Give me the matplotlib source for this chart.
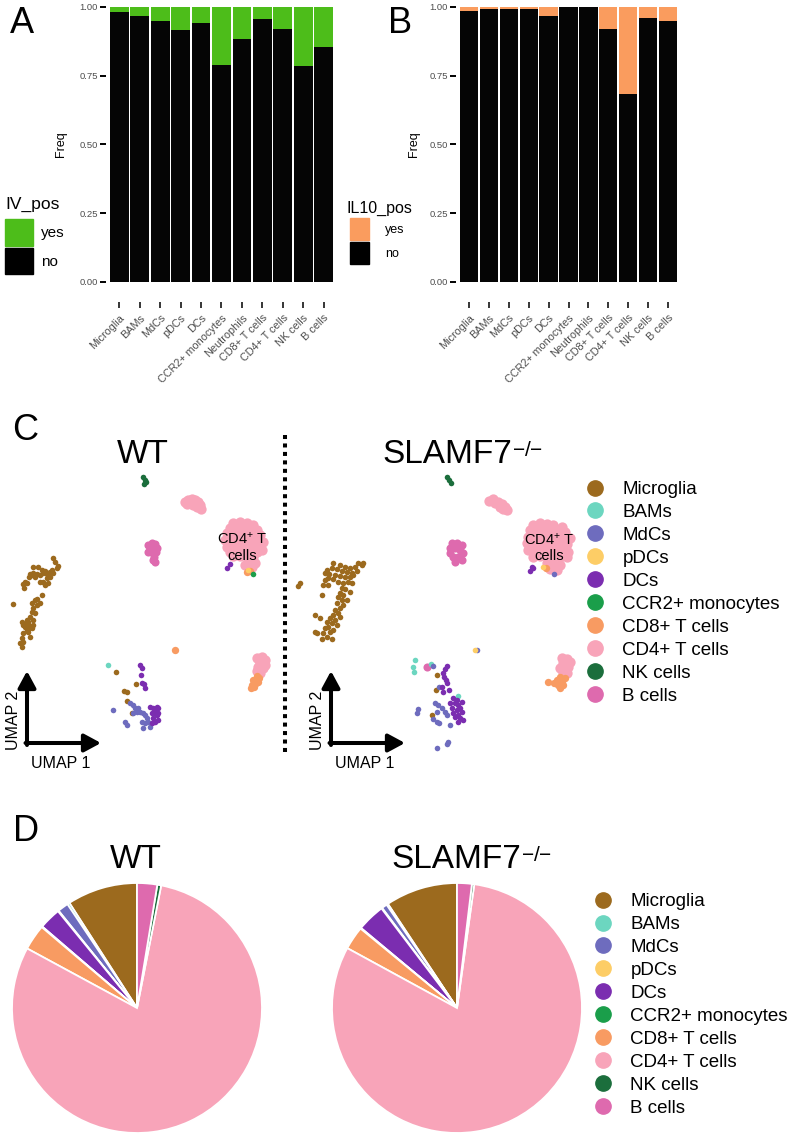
import numpy as np
import matplotlib.pyplot as plt
from matplotlib.patches import Patch, FancyArrowPatch
from matplotlib.lines import Line2D

plt.rcParams['font.family'] = ['Liberation Sans', 'DejaVu Sans']
plt.rcParams['mathtext.fontset'] = 'custom'
plt.rcParams['mathtext.rm'] = 'Liberation Sans'
plt.rcParams['mathtext.it'] = 'Liberation Sans:italic'
plt.rcParams['mathtext.bf'] = 'Liberation Sans:bold'

# ---- panels A / B : stacked frequencies ----
bar_types = ['Microglia', 'BAMs', 'MdCs', 'pDCs', 'DCs', 'CCR2+ monocytes', 'Neutrophils',
             'CD8+ T cells', 'CD4+ T cells', 'NK cells', 'B cells']
iv_no = [0.982, 0.967, 0.949, 0.918, 0.942, 0.788, 0.884, 0.955, 0.919, 0.785, 0.855]
il10_no = [0.984, 0.994, 0.991, 0.991, 0.966, 1.0, 1.0, 0.921, 0.684, 0.960, 0.949]

# ---- panels C / D : cell types ----
cell_types = ['Microglia', 'BAMs', 'MdCs', 'pDCs', 'DCs', 'CCR2+ monocytes',
              'CD8+ T cells', 'CD4+ T cells', 'NK cells', 'B cells']
cell_colors = ['#9C6A1E', '#6CD6C0', '#6E6CBE', '#FDCD66', '#7B2DB0', '#1A9E4A',
               '#F89B62', '#F8A4B9', '#1B6E3C', '#DE6AAE']

pie_wt = [9.1, 0.3, 1.4, 0.1, 2.8, 0.1, 3.3, 79.8, 0.5, 2.6]
pie_ko = [9.3, 0.2, 0.7, 0.1, 3.6, 0.1, 3.0, 80.5, 0.3, 1.9]

# UMAP coordinates (UMAP1, UMAP2), WT
wt_microglia = [(5.3, 24.2), (5.5, 23.8), (5.8, 23.4), (5.7, 23.2), (5.2, 23.0), (5.0, 22.8), (4.8, 22.7),
                (4.7, 22.6), (4.3, 22.7), (4.0, 22.5), (3.7, 22.6), (3.3, 22.7), (3.2, 22.5), (3.0, 22.6),
                (3.3, 23.3), (3.8, 23.3), (3.5, 22.3), (2.9, 22.3), (4.2, 23.0), (4.5, 22.9), (5.3, 22.7),
                (5.0, 22.3), (4.7, 22.2), (4.3, 21.8), (4.0, 21.8), (4.5, 21.5), (4.8, 21.7), (2.5, 21.8),
                (2.7, 21.7), (2.3, 21.6), (2.4, 21.2), (4.2, 20.5), (3.7, 20.1), (3.2, 19.7), (3.5, 20.0),
                (3.7, 19.5), (4.0, 19.7), (3.3, 19.2), (3.2, 18.8), (3.5, 18.7), (3.0, 18.3), (3.3, 18.0),
                (2.8, 17.8), (2.7, 17.7), (2.2, 17.8), (2.3, 17.5), (2.5, 17.3), (3.0, 17.4), (3.2, 17.2),
                (2.7, 17.0), (2.8, 16.8), (2.3, 16.7), (3.0, 16.3), (2.2, 16.2), (2.3, 15.8), (2.0, 15.7),
                (2.2, 15.3), (1.3, 19.6), (2.7, 18.0), (2.9, 17.2), (3.3, 17.5),
                (11.6, 12.8), (12.4, 10.9), (12.7, 10.8), (12.7, 9.9), (13.2, 8.7), (13.6, 11.6)]
wt_bams = [(10.8, 13.5)]
wt_mdcs = [(13.0, 9.7), (13.3, 9.5), (13.5, 9.2), (13.8, 9.2), (14.0, 8.8), (14.3, 8.7), (14.5, 8.5),
           (14.7, 8.2), (14.8, 7.8), (14.5, 7.7), (14.3, 7.2), (12.5, 7.8), (12.7, 7.5), (11.3, 9.0),
           (15.0, 7.3), (13.3, 8.7), (13.7, 8.8), (14.2, 7.8)]
wt_pdcs = [(24.8, 23.0)]
wt_dcs = [(14.0, 13.5), (14.2, 13.2), (14.1, 12.5), (14.2, 11.7), (14.4, 11.6), (14.5, 11.2), (15.0, 9.3),
          (15.3, 9.2), (15.5, 9.0), (15.7, 9.3), (15.8, 9.2), (15.5, 8.7), (15.7, 8.5), (15.8, 8.7),
          (15.2, 8.7), (15.3, 8.2), (15.8, 8.0), (15.5, 7.8), (15.2, 7.7), (22.7, 23.2), (23.0, 23.6)]
wt_ccr2 = [(25.3, 22.6)]
wt_cd8 = [(24.7, 22.8), (25.0, 22.9), (17.5, 15.0), (25.7, 12.4), (25.9, 12.2), (25.3, 12.0), (25.6, 11.7),
          (25.2, 11.5), (25.4, 11.3), (25.8, 11.8), (25.1, 11.2)]
wt_cd4 = [(23.3, 27.7), (24.0, 27.8), (24.7, 27.7), (25.3, 27.5), (23.0, 27.2), (23.7, 27.3), (24.3, 27.3),
          (25.0, 27.2), (25.7, 27.0), (22.7, 26.7), (23.3, 26.7), (24.0, 26.8), (24.7, 26.7), (25.3, 26.7),
          (26.0, 26.5), (22.5, 26.0), (23.2, 26.2), (23.8, 26.3), (24.5, 26.3), (25.2, 26.2), (25.8, 26.1),
          (26.3, 25.8), (22.7, 25.3), (23.3, 25.5), (24.0, 25.6), (24.7, 25.6), (25.3, 25.5), (26.0, 25.4),
          (23.0, 24.8), (23.7, 24.9), (24.3, 24.9), (25.0, 24.9), (25.7, 24.8), (26.2, 25.0), (23.3, 24.4),
          (24.0, 24.4), (24.7, 24.5), (25.3, 24.3), (24.8, 23.8), (24.5, 23.5), (25.2, 23.3), (25.5, 23.7),
          (18.5, 29.8), (18.8, 30.0), (19.2, 30.1), (19.5, 30.0), (19.8, 29.8), (20.0, 29.5), (20.1, 29.1),
          (19.7, 29.3), (19.3, 29.5), (18.9, 29.7), (18.7, 29.6), (19.7, 29.7),
          (25.7, 14.2), (26.2, 14.3), (26.5, 14.0), (26.0, 13.7), (26.5, 13.5), (25.8, 13.3), (26.3, 13.2),
          (25.7, 12.9), (26.0, 12.7)]
wt_nk = [(14.3, 32.3), (14.5, 32.0), (14.6, 31.8), (14.4, 31.6)]
wt_bcells = [(14.8, 25.5), (15.2, 25.7), (15.5, 25.6), (15.7, 25.2), (15.3, 25.0), (15.0, 25.2), (14.8, 24.8),
             (15.3, 24.7), (15.4, 24.3), (15.3, 24.0), (15.5, 23.8), (15.1, 25.4), (15.6, 24.8)]

# UMAP coordinates, SLAMF7-/-
ko_microglia = [(3.3, 23.7), (4.0, 23.5), (4.5, 23.3), (5.0, 23.2), (5.5, 23.3), (5.8, 23.7), (6.2, 23.5),
                (6.3, 23.7), (5.7, 22.9), (5.2, 22.7), (4.7, 22.8), (4.2, 22.9), (3.7, 23.1), (3.2, 23.2),
                (2.7, 23.0), (2.5, 22.7), (2.9, 22.6), (3.5, 22.5), (4.0, 22.4), (4.5, 22.3), (5.0, 22.3),
                (5.3, 22.5), (4.8, 21.8), (4.3, 21.7), (3.8, 21.8), (3.3, 22.1), (2.8, 22.2), (2.5, 22.0),
                (2.3, 21.5), (2.8, 21.5), (4.2, 21.2), (4.5, 21.1), (4.0, 20.7), (4.3, 20.5), (3.8, 20.3),
                (4.7, 20.0), (4.2, 20.0), (3.7, 19.7), (4.3, 19.5), (4.0, 19.2), (3.5, 19.0), (3.8, 18.7),
                (3.3, 18.5), (4.0, 18.3), (3.0, 18.2), (3.5, 18.0), (2.7, 17.8), (3.2, 17.7), (3.7, 17.5),
                (2.8, 17.3), (2.5, 17.2), (3.3, 17.0), (3.0, 16.8), (2.3, 16.7), (2.7, 16.3), (2.2, 16.1),
                (3.2, 16.1), (1.7, 16.7), (1.5, 18.5), (2.0, 18.2), (0.0, 21.7), (-0.2, 21.4), (2.2, 20.5),
                (5.0, 20.8), (5.2, 21.7), (1.5, 16.8),
                (13.7, 12.5), (13.6, 11.0), (13.2, 8.5)]
ko_bams = [(11.5, 14.0), (11.3, 13.3), (11.4, 12.8), (13.1, 13.6), (15.8, 10.4)]
ko_mdcs = [(13.3, 13.4), (13.9, 11.3), (13.5, 9.7), (13.8, 9.5), (14.2, 9.2), (14.5, 8.8), (14.7, 8.5),
           (13.7, 8.8), (11.8, 9.1), (11.7, 8.7), (13.3, 8.1), (13.7, 7.8), (13.9, 7.7), (15.0, 7.5),
           (14.8, 5.8), (14.7, 5.6), (13.7, 5.2), (17.7, 15.0), (25.4, 22.6)]
ko_pdcs = [(17.5, 15.0), (24.3, 23.3)]
ko_dcs = [(14.7, 13.4), (14.5, 13.1), (14.3, 12.7), (14.4, 12.3), (14.6, 12.0), (14.7, 11.7), (14.2, 11.3),
          (14.3, 10.8), (14.9, 11.0), (15.3, 10.2), (15.7, 10.0), (15.5, 9.7), (15.8, 9.5), (16.0, 9.2),
          (15.7, 9.0), (16.2, 8.8), (15.8, 8.5), (15.5, 8.3), (16.0, 8.2), (16.3, 8.0), (15.8, 7.8),
          (15.3, 8.7), (15.2, 9.2), (16.2, 9.8), (15.0, 9.7), (23.2, 23.3), (23.0, 22.9), (23.3, 23.2)]
ko_ccr2 = []
ko_cd8 = [(24.6, 23.2), (26.0, 12.3), (26.5, 12.2), (25.7, 12.0), (26.2, 11.8), (25.8, 11.5), (26.3, 11.5),
          (25.4, 11.7), (26.0, 11.2), (24.8, 11.8)]
ko_cd4 = [(23.3, 27.5), (24.0, 27.7), (24.7, 27.6), (25.3, 27.5), (26.2, 27.3), (23.0, 27.0), (23.7, 27.0),
          (24.3, 27.1), (25.0, 27.0), (25.7, 26.9), (26.5, 26.8), (22.8, 26.3), (23.5, 26.4), (24.2, 26.4),
          (24.8, 26.4), (25.5, 26.3), (26.3, 26.3), (27.0, 26.2), (22.7, 25.7), (23.3, 25.7), (24.0, 25.7),
          (24.7, 25.7), (25.3, 25.7), (26.0, 25.7), (26.7, 25.6), (22.8, 25.0), (23.5, 25.1), (24.2, 25.1),
          (24.8, 25.0), (25.5, 24.9), (26.3, 25.0), (26.8, 24.8), (23.3, 24.3), (24.0, 24.4), (24.7, 24.4),
          (25.3, 24.3), (26.0, 24.3), (26.7, 24.3), (24.7, 23.7), (25.3, 23.6), (26.0, 23.5), (25.0, 23.1),
          (25.7, 23.0),
          (18.9, 29.9), (19.3, 30.1), (19.8, 29.8), (20.2, 29.6), (20.5, 29.3), (20.7, 29.0), (20.0, 29.3),
          (19.5, 29.7), (20.3, 29.1),
          (26.2, 14.2), (26.7, 14.1), (27.0, 13.8), (26.3, 13.7), (26.8, 13.3), (26.5, 13.0), (26.0, 13.2),
          (26.3, 12.7), (26.7, 12.7)]
ko_nk = [(14.7, 32.3), (14.9, 32.0), (15.1, 31.7)]
ko_bcells = [(15.2, 25.7), (15.7, 25.7), (16.2, 25.5), (15.0, 25.2), (15.5, 25.2), (16.0, 25.0), (16.3, 24.7),
             (15.0, 24.7), (15.3, 24.3), (15.8, 24.3), (15.5, 23.8), (16.2, 24.0), (12.7, 13.3)]

wt_umap = [wt_microglia, wt_bams, wt_mdcs, wt_pdcs, wt_dcs, wt_ccr2, wt_cd8, wt_cd4, wt_nk, wt_bcells]
ko_umap = [ko_microglia, ko_bams, ko_mdcs, ko_pdcs, ko_dcs, ko_ccr2, ko_cd8, ko_cd4, ko_nk, ko_bcells]

W, H = 797, 1134
fig = plt.figure(figsize=(W / 100, H / 100), dpi=100)


def box(l, t, r, b):
    # pixel box (left, top, right, bottom) -> figure fraction rect
    return [l / W, 1 - b / H, (r - l) / W, (b - t) / H]


def fx(px):
    return px / W


def fy(py):
    return 1 - py / H


def freq_panel(rect, no_vals, yes_color, freq_x):
    ax = fig.add_axes(rect)
    x = np.arange(1, len(bar_types) + 1)
    no_vals = np.array(no_vals)
    ax.bar(x, no_vals, width=0.92, color='#050505')
    ax.bar(x, 1 - no_vals, bottom=no_vals, width=0.92, color=yes_color)
    ax.set_xlim(1 - 0.46, len(bar_types) + 0.46)
    ax.set_ylim(0, 1)
    for s in ax.spines.values():
        s.set_visible(False)
    ax.spines['bottom'].set_position(('outward', 14.4))
    ax.spines['left'].set_position(('outward', 2.9))
    ax.set_yticks([0, 0.25, 0.5, 0.75, 1.0], ['0.00', '0.25', '0.50', '0.75', '1.00'])
    ax.set_xticks(x, bar_types, rotation=45, ha='right', va='top', rotation_mode='anchor')
    ax.tick_params(axis='y', length=4.3, width=1.4, pad=1.5, labelsize=6.8, labelcolor='#4D4D4D')
    ax.tick_params(axis='x', length=4.3, width=1.1, pad=3.5, labelsize=7.8, labelcolor='#4D4D4D')
    ax.set_ylabel('Freq', fontsize=9)
    ax.yaxis.set_label_coords(freq_x, 0.5)
    return ax


green = '#4DBD1A'
orange = '#FA9C5E'
freq_panel(box(110, 7, 333, 282), iv_no, green, -(110 - 67) / 223)
freq_panel(box(460, 7, 677, 282), il10_no, orange, -(460 - 420) / 217)

# fill legends (titles drawn as separate text)
fig.text(fx(5), fy(209), 'IV_pos', fontsize=12.5, ha='left', va='baseline')
fig.legend([Patch(color=green), Patch(color='black')], ['yes', 'no'],
           loc='upper left', bbox_to_anchor=(fx(5), fy(219)), frameon=False,
           fontsize=11, handlelength=1.83, handleheight=2.34,
           labelspacing=0.1, handletextpad=0.55, borderpad=0, borderaxespad=0)
fig.text(fx(347), fy(213), 'IL10_pos', fontsize=11.5, ha='left', va='baseline')
fig.legend([Patch(color=orange), Patch(color='black')], ['yes', 'no'],
           loc='upper left', bbox_to_anchor=(fx(350), fy(218)), frameon=False,
           fontsize=9, handlelength=1.52, handleheight=2.33,
           labelspacing=0.15, handletextpad=1.3, borderpad=0, borderaxespad=0)

# panel letters
for letter, px, py in [('A', 10, 33), ('B', 388, 33), ('C', 12, 440), ('D', 13, 841)]:
    fig.text(fx(px), fy(py), letter, fontsize=26, va='baseline', ha='left')

# ---- panel C : UMAPs ----
point_size = {'CD4+ T cells': 55, 'B cells': 34, 'CD8+ T cells': 28}
draw_order = [7, 9, 6, 0, 1, 2, 3, 4, 5, 8]


def umap_panel(rect, data, xlim, label_pos):
    ax = fig.add_axes(rect)
    for i in draw_order:
        pts = data[i]
        if not pts:
            continue
        arr = np.array(pts)
        ax.scatter(arr[:, 0], arr[:, 1], s=point_size.get(cell_types[i], 16),
                   color=cell_colors[i], linewidths=0)
    ax.set_xlim(*xlim)
    ax.set_ylim(0, 33)
    ax.axis('off')
    ax.text(label_pos[0], label_pos[1], 'CD4$^{+}$ T', fontsize=10.5, ha='center', va='center')
    ax.text(label_pos[0], label_pos[1] - 1.65, 'cells', fontsize=10.5, ha='center', va='center')
    return ax


def genotype_titles(y_base, wt_x, ko_x):
    fig.text(fx(wt_x), fy(y_base), 'WT', fontsize=24, ha='center', va='baseline')
    fig.text(fx(ko_x), fy(y_base), 'SLAMF7', fontsize=24, ha='left', va='baseline')
    fig.text(fx(ko_x + 130), fy(y_base - 7), '$-$/$-$', fontsize=15, ha='left', va='baseline')


umap_panel(box(0, 470, 283, 800), wt_umap, (0, 28.3), (24.2, 26.1))
umap_panel(box(290, 470, 580, 800), ko_umap, (-1, 28), (24.9, 26.0))
genotype_titles(463, 143, 382)

# dotted divider
fig.add_artist(Line2D([fx(285), fx(285)], [fy(435), fy(753)], lw=2.9, color='black',
                      dashes=(1.0, 1.1), dash_capstyle='butt'))

# UMAP axis arrows
for ox in (27, 331):
    for (x0, y0), (x1, y1) in [((ox, 745), (ox, 671)), ((ox - 1.5, 743), (ox + 74, 743))]:
        fig.add_artist(FancyArrowPatch((fx(x0), fy(y0)), (fx(x1), fy(y1)),
                                       transform=fig.transFigure,
                                       arrowstyle='-|>,head_length=0.5,head_width=0.27',
                                       mutation_scale=20, lw=2.9, color='black',
                                       shrinkA=0, shrinkB=0))
    fig.text(fx(ox + 34), fy(763), 'UMAP 1', fontsize=11.5, ha='center', va='center')
    fig.text(fx(ox - 14), fy(720), 'UMAP 2', fontsize=11.5, ha='center', va='center', rotation=90)

handles = [Line2D([], [], marker='o', ls='', color=c, markersize=11) for c in cell_colors]
fig.legend(handles, cell_types, loc='upper left', bbox_to_anchor=(fx(585), fy(481)),
           frameon=False, fontsize=13.5, handlelength=1.05, handletextpad=0.95, labelspacing=0.31,
           borderpad=0, borderaxespad=0)

# ---- panel D : pies ----
for rect, vals in [(box(12, 883, 262, 1133), pie_wt), (box(332, 883, 582, 1133), pie_ko)]:
    ax = fig.add_axes(rect)
    ax.pie(vals, colors=cell_colors, startangle=90, counterclock=True,
           wedgeprops=dict(edgecolor='white', linewidth=1.3))
    ax.set_xlim(-1, 1)
    ax.set_ylim(-1, 1)
    ax.set_aspect('equal')

genotype_titles(868, 136, 391)

fig.legend(handles, cell_types, loc='upper left', bbox_to_anchor=(fx(593), fy(893)),
           frameon=False, fontsize=13.5, handlelength=1.05, handletextpad=0.95, labelspacing=0.31,
           borderpad=0, borderaxespad=0)

fig.savefig('out.png', dpi=100)
